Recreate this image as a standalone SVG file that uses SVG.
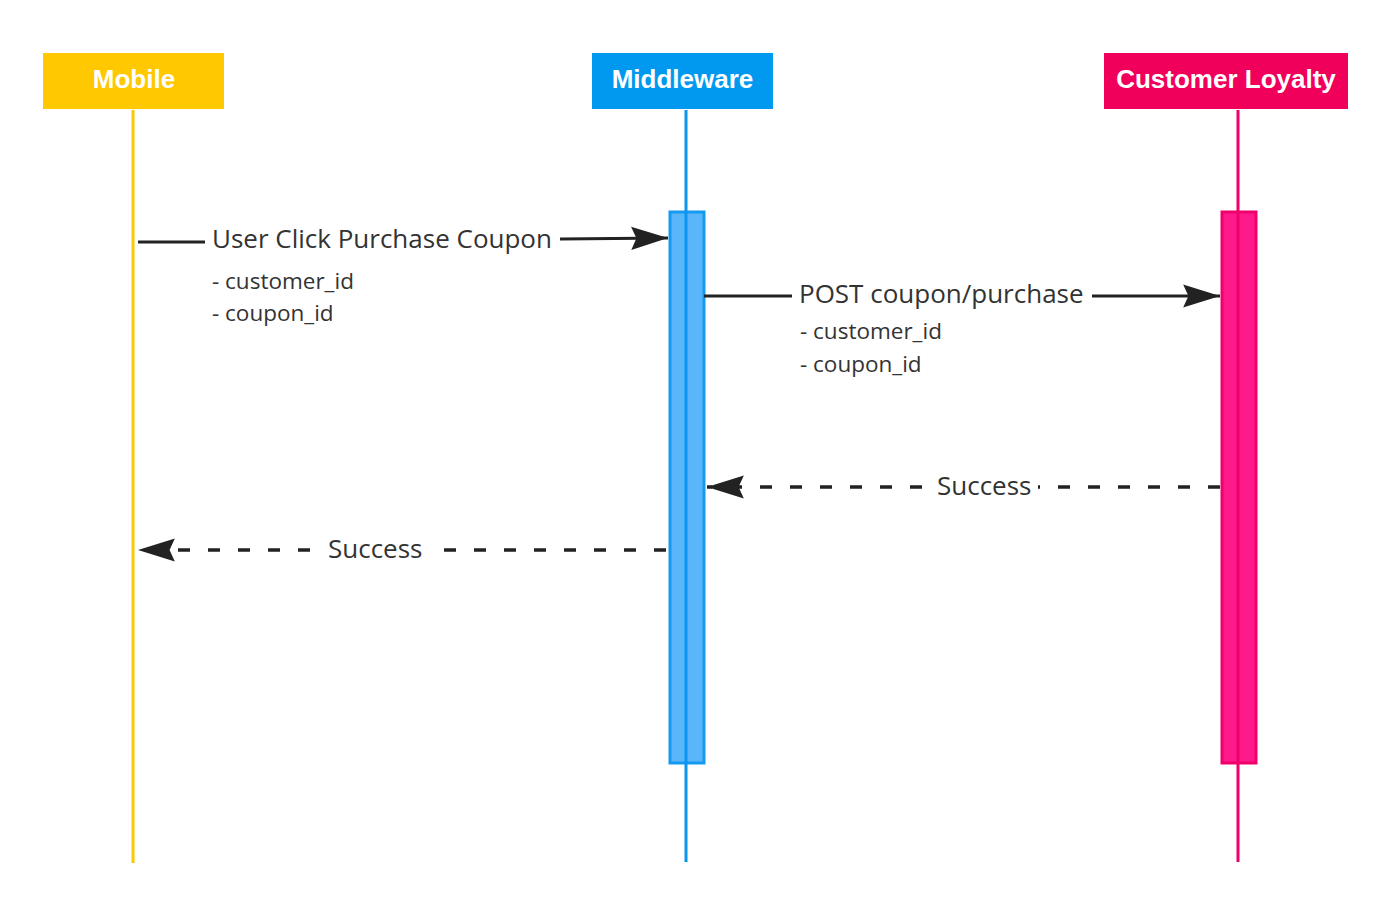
<svg xmlns="http://www.w3.org/2000/svg" width="1374" height="922" viewBox="0 0 1374 922">
<style>
.hdr{font-family:"Liberation Sans",Arial,sans-serif;font-weight:bold;font-size:26px;fill:#ffffff;text-anchor:middle}
.lbl{font-family:"Open Sans","Noto Sans",sans-serif;font-size:26px;fill:#333333}
.sub{font-family:"Open Sans","Noto Sans",sans-serif;font-size:22.5px;fill:#333333}
.msg{fill:none;stroke:#222222;stroke-width:3}
.dash{stroke-dasharray:12 18;stroke-width:3.5}
</style>
<defs>
<marker id="ah" markerUnits="userSpaceOnUse" markerWidth="40" markerHeight="30" viewBox="-36 -12 38 24" refX="0" refY="0" orient="auto">
<path d="M0,0 L-35,-11 L-30,0 L-35,11 Z" fill="#222222"/>
</marker>
</defs>
<rect width="1374" height="922" fill="#ffffff"/>
<g id="mobile">
<rect x="43" y="53" width="181" height="56" fill="#FFC800"/>
<text class="hdr" x="134" y="88">Mobile</text>
<line x1="133" y1="110" x2="133" y2="863" stroke="#FFC800" stroke-width="3"/>
</g>
<g id="middleware">
<rect x="592" y="53" width="181" height="56" fill="#0099EF"/>
<text class="hdr" x="682.5" y="88">Middleware</text>
<rect x="670" y="212" width="34" height="551" fill="#5BB5F9" stroke="#149AF0" stroke-width="3"/>
<line x1="686" y1="110" x2="686" y2="862" stroke="#0A96F0" stroke-width="3"/>
</g>
<g id="customer-loyalty">
<rect x="1104" y="53" width="244" height="56" fill="#F0005A"/>
<text class="hdr" x="1226" y="88">Customer Loyalty</text>
<rect x="1222" y="212" width="34" height="551" fill="#FF1A8C" stroke="#F0006A" stroke-width="3"/>
<line x1="1238" y1="110" x2="1238" y2="862" stroke="#F0006A" stroke-width="3"/>
</g>
<g id="connectors">
<line class="msg" x1="138" y1="242" x2="205" y2="242"/>
<line class="msg" x1="560" y1="239" x2="668" y2="238" marker-end="url(#ah)"/>
<text class="lbl" x="212" y="248">User Click Purchase Coupon</text>
<text class="sub" x="212" y="289">- customer_id</text>
<text class="sub" x="212" y="321">- coupon_id</text>

<line class="msg" x1="704" y1="296" x2="792" y2="296"/>
<line class="msg" x1="1092" y1="296" x2="1220" y2="296" marker-end="url(#ah)"/>
<text class="lbl" x="799" y="303">POST coupon/purchase</text>
<text class="sub" x="800" y="339">- customer_id</text>
<text class="sub" x="800" y="372">- coupon_id</text>

<line class="msg dash" x1="1220" y1="487" x2="1038" y2="487"/>
<line class="msg dash" x1="922" y1="487" x2="707" y2="487" marker-end="url(#ah)"/>
<text class="lbl" x="937" y="495">Success</text>

<line class="msg dash" x1="666" y1="550" x2="441" y2="550"/>
<line class="msg dash" x1="310" y1="550" x2="138" y2="550" marker-end="url(#ah)"/>
<text class="lbl" x="328" y="558">Success</text>
</g>
</svg>
